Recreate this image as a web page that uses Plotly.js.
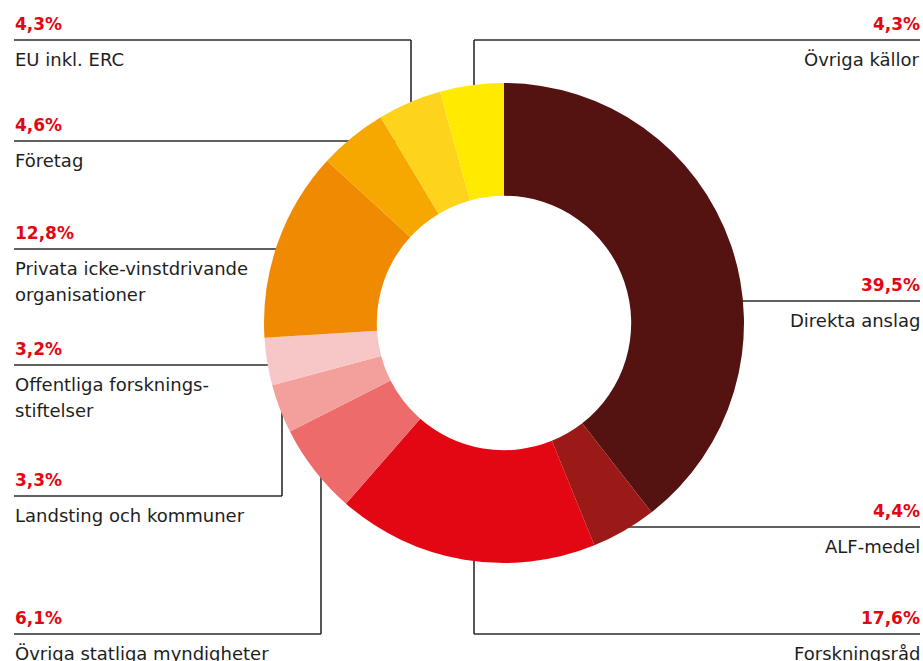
<!DOCTYPE html>
<html>
<head>
<meta charset="utf-8">
<script src="https://cdn.plot.ly/plotly-3.0.1.min.js"></script>
<style>html,body{margin:0;padding:0;background:#fff;}#chart{width:923px;height:661px;}</style>
</head>
<body>
<div id="chart"></div>
<script>
const categories = ["Direkta anslag","ALF-medel","Forskningsråd","Övriga statliga myndigheter","Landsting och kommuner","Offentliga forsknings-<br>stiftelser","Privata icke-vinstdrivande<br>organisationer","Företag","EU inkl. ERC","Övriga källor"];
const values = [39.5, 4.4, 17.6, 6.1, 3.3, 3.2, 12.8, 4.6, 4.3, 4.3];
const valueLabels = ["39,5%","4,4%","17,6%","6,1%","3,3%","3,2%","12,8%","4,6%","4,3%","4,3%"];
const colors = ["#541210","#9b1916","#e30613","#ed6b6b","#f3a09c","#f7c7c7","#f08a00","#f6a800","#fdd31c","#ffea00"];

const W = 923, H = 661;
const px = x => x / W;
const py = y => 1 - y / H;

const leaders = [
  {side:"R", y:301, x0:700},                 // Direkta
  {side:"R", y:527, x0:600},                 // ALF
  {side:"R", y:634, vx:474, vy:530},         // Forskningsråd
  {side:"L", y:634, vx:321, vy:440},         // Övriga statliga
  {side:"L", y:496, vx:282, vy:385},         // Landsting
  {side:"L", y:365, x1:330},                 // Offentliga
  {side:"L", y:249, x1:330},                 // Privata
  {side:"L", y:141, x1:420},                 // Företag
  {side:"L", y:40,  vx:411, vy:150},         // EU
  {side:"R", y:40,  vx:474, vy:150}          // Övriga källor
];

const LEFT = 14, RIGHT = 920;
const shapes = [];
const annotations = [];
const lineStyle = {color:"#2b2b2b", width:1.6};

leaders.forEach((L, i) => {
  let xa, xb;
  if (L.side === "L") {
    xa = LEFT; xb = (L.vx !== undefined) ? L.vx : L.x1;
  } else {
    xa = (L.vx !== undefined) ? L.vx : L.x0; xb = RIGHT;
  }
  shapes.push({type:"line", xref:"paper", yref:"paper", layer:"below",
    x0:px(xa), x1:px(xb), y0:py(L.y), y1:py(L.y), line:lineStyle});
  if (L.vx !== undefined) {
    shapes.push({type:"line", xref:"paper", yref:"paper", layer:"below",
      x0:px(L.vx), x1:px(L.vx), y0:py(L.y), y1:py(L.vy), line:lineStyle});
  }
  const ax = L.side === "L" ? px(LEFT - 1) : px(RIGHT + 2);
  const xanchor = L.side === "L" ? "left" : "right";
  annotations.push({xref:"paper", yref:"paper", x:ax, y:py(L.y - 4), xanchor:xanchor, yanchor:"bottom",
    text:"<b>" + valueLabels[i] + "</b>", showarrow:false,
    font:{family:"DejaVu Sans", size:17, color:"#e30613"}});
  categories[i].split("<br>").forEach((part, k) => {
    annotations.push({xref:"paper", yref:"paper", x:ax, y:py(L.y + 7 + 26 * k), xanchor:xanchor, yanchor:"top",
      text:part, showarrow:false,
      font:{family:"DejaVu Sans", size:18, color:"#1e1e1e"}});
  });
});

const cx = 504, cy = 323, R = 240;
const trace = {
  type:"pie",
  values: values,
  labels: categories,
  sort:false,
  direction:"clockwise",
  rotation:0,
  hole:0.53,
  textinfo:"none",
  hoverinfo:"none",
  marker:{colors:colors, line:{width:0}},
  domain:{x:[px(cx - R), px(cx + R)], y:[py(cy + R), py(cy - R)]},
  showlegend:false
};

Plotly.newPlot("chart", [trace], {
  width:W, height:H,
  margin:{l:0, r:0, t:0, b:0},
  paper_bgcolor:"#fff",
  showlegend:false,
  shapes:shapes,
  annotations:annotations
}, {staticPlot:true});
</script>
</body>
</html>
